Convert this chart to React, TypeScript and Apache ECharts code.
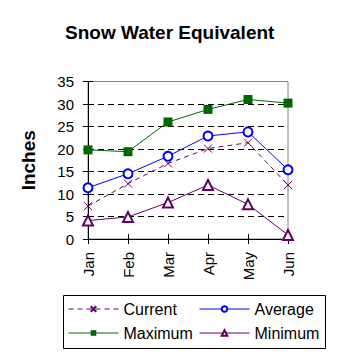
import React, { useEffect, useRef } from "react";
import * as echarts from "echarts";

const months = ["Jan", "Feb", "Mar", "Apr", "May", "Jun"];
const current = [7.3, 12.3, 16.8, 20.1, 21.4, 12.0];
const average = [11.4, 14.5, 18.4, 22.9, 23.8, 15.4];
const maximum = [19.8, 19.4, 26.0, 28.8, 31.0, 30.2];
const minimum = [4.1, 4.9, 8.1, 12.0, 7.7, 0.9];
const yMin = 0;
const yMax = 35;
const yStep = 5;

const FONT = "'Liberation Sans', Arial, sans-serif";
const X_SYMBOL = "path://M0,0L10,10M10,0L0,10";

export default function App() {
  const ref = useRef<HTMLDivElement>(null);
  useEffect(() => {
    if (!ref.current) return;
    const chart = echarts.init(ref.current, undefined, { renderer: "svg" });
    const legendBase = {
      orient: "horizontal",
      padding: 0,
      itemWidth: 50,
      itemHeight: 7,
      lineStyle: { width: 1 },
      textStyle: { fontFamily: FONT, fontSize: 16, color: "#000", lineHeight: 16 },
      selectedMode: false,
    };
    chart.setOption({
      animation: false,
      backgroundColor: "#fff",
      title: {
        text: "Snow Water Equivalent",
        left: 65,
        top: 23,
        padding: 0,
        textStyle: { fontFamily: FONT, fontSize: 19, fontWeight: "bold", color: "#000" },
      },
      grid: {
        left: 88,
        right: 70,
        top: 81.5,
        bottom: 119,
        show: true,
        borderColor: "#808080",
        borderWidth: 1,
        backgroundColor: "transparent",
      },
      legend: [
        { ...legendBase, data: ["Current"], left: 68, top: 301 },
        { ...legendBase, data: ["Average"], left: 199, top: 301 },
        { ...legendBase, data: ["Maximum"], left: 68, top: 325 },
        { ...legendBase, data: ["Minimum"], left: 199, top: 325 },
      ],
      xAxis: [
        {
          type: "category",
          data: months,
          boundaryGap: false,
          axisLine: { lineStyle: { color: "#000", width: 1 } },
          axisTick: { show: true, length: 5, lineStyle: { color: "#000" } },
          axisLabel: { rotate: 90, margin: 13, fontFamily: FONT, fontSize: 15, color: "#000" },
          splitLine: { show: false },
        },
        {
          type: "category",
          data: months,
          boundaryGap: false,
          position: "bottom",
          axisLine: { show: false },
          axisTick: { show: true, inside: true, length: 5, lineStyle: { color: "#000" } },
          axisLabel: { show: false },
          splitLine: { show: false },
        },
      ],
      yAxis: [
        {
          type: "value",
          min: yMin,
          max: yMax,
          interval: yStep,
          name: "Inches",
          nameLocation: "middle",
          nameRotate: 90,
          nameGap: 50,
          nameTextStyle: { fontFamily: FONT, fontSize: 19, fontWeight: "bold", color: "#000" },
          axisLine: { show: true, lineStyle: { color: "#000", width: 1 } },
          axisTick: { show: true, length: 5, lineStyle: { color: "#000" } },
          axisLabel: { margin: 14, fontFamily: FONT, fontSize: 15, color: "#000" },
          splitLine: {
            show: true,
            showMinLine: false,
            showMaxLine: false,
            lineStyle: { color: "#000", type: [6, 4], width: 1 },
          },
        },
        {
          type: "value",
          min: yMin,
          max: yMax,
          interval: yStep,
          position: "left",
          axisLine: { show: false },
          axisTick: { show: true, inside: true, length: 5, lineStyle: { color: "#000" } },
          axisLabel: { show: false },
          splitLine: { show: false },
        },
      ],
      series: [
        {
          name: "Current",
          type: "line",
          data: current,
          symbol: X_SYMBOL,
          symbolSize: 8,
          lineStyle: { color: "#660066", width: 1, type: [5, 4] },
          itemStyle: { color: "#660066", borderColor: "#660066", borderWidth: 1 },
          z: 3,
        },
        {
          name: "Average",
          type: "line",
          data: average,
          symbol: "emptyCircle",
          symbolSize: 9,
          lineStyle: { color: "#0000ff", width: 1 },
          itemStyle: { color: "#0000ff", borderColor: "#0000ff", borderWidth: 1 },
          z: 4,
        },
        {
          name: "Maximum",
          type: "line",
          data: maximum,
          symbol: "rect",
          symbolSize: 9,
          lineStyle: { color: "#006600", width: 1 },
          itemStyle: { color: "#006600" },
          z: 5,
        },
        {
          name: "Minimum",
          type: "line",
          data: minimum,
          symbol: "emptyTriangle",
          symbolSize: 10,
          lineStyle: { color: "#660066", width: 1 },
          itemStyle: { color: "#660066", borderColor: "#660066", borderWidth: 1 },
          z: 6,
        },
      ],
      graphic: [
        {
          type: "rect",
          shape: { x: 63.5, y: 295.5, width: 262, height: 53 },
          style: { fill: "none", stroke: "#000", lineWidth: 1 },
          silent: true,
        },
      ],
    });
    return () => chart.dispose();
  }, []);
  return (
    <div
      ref={ref}
      style={{ position: "absolute", left: 0, top: 0, width: 358, height: 358 }}
    />
  );
}
